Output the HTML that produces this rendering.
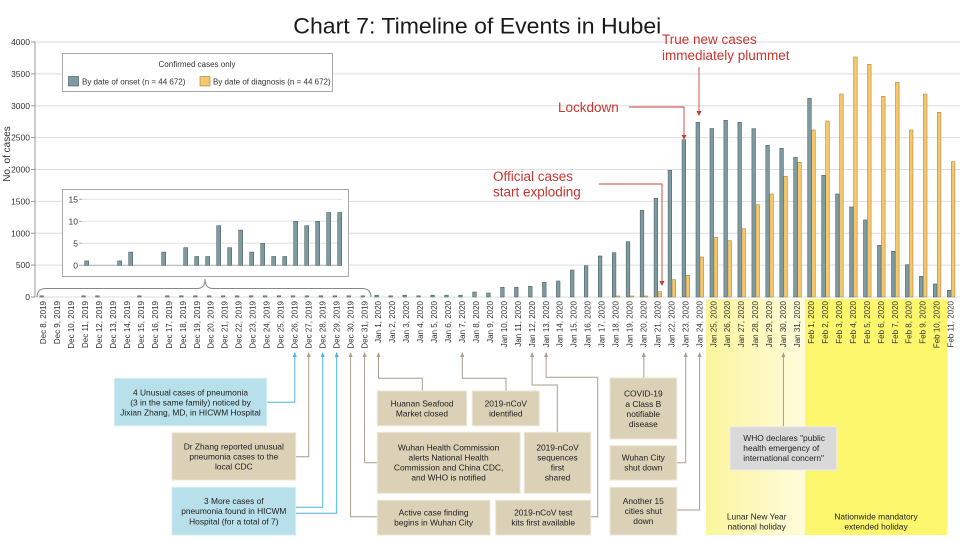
<!DOCTYPE html>
<html><head><meta charset="utf-8"><style>
html,body{margin:0;padding:0;background:#fff;}
svg{display:block;font-family:"Liberation Sans",Arial,sans-serif;}
</style></head><body>
<svg width="960" height="539" viewBox="0 0 960 539" xmlns="http://www.w3.org/2000/svg">
<defs>
<linearGradient id="ly" x1="0" x2="1" y1="0" y2="0">
<stop offset="0" stop-color="#fbf59c"/><stop offset="1" stop-color="#fefcdc"/>
</linearGradient>
</defs>
<rect width="960" height="539" fill="#fff"/>
<!-- yellow bands -->
<rect x="706" y="299" width="99" height="236" fill="url(#ly)"/>
<rect x="805" y="299" width="142" height="236" fill="#fdf76e"/>

<!-- title -->
<text x="293.3" y="33.3" font-size="22.5" fill="#1a1a1a" textLength="368" lengthAdjust="spacingAndGlyphs">Chart 7: Timeline of Events in Hubei</text>

<!-- gridlines -->
<g stroke="#dedede" stroke-width="1">
<line x1="35" x2="960" y1="42" y2="42"/>
<line x1="35" x2="960" y1="73.9" y2="73.9"/>
<line x1="35" x2="960" y1="105.75" y2="105.75"/>
<line x1="35" x2="960" y1="137.6" y2="137.6"/>
<line x1="35" x2="960" y1="169.5" y2="169.5"/>
<line x1="35" x2="960" y1="201.4" y2="201.4"/>
<line x1="35" x2="960" y1="233.25" y2="233.25"/>
<line x1="35" x2="960" y1="265.1" y2="265.1"/>
<line x1="35" x2="960" y1="297" y2="297"/>
</g>
<line x1="35" x2="35" y1="42" y2="297" stroke="#999" stroke-width="1"/>
<g stroke="#999" stroke-width="1">
<line x1="31" x2="35" y1="42" y2="42"/><line x1="31" x2="35" y1="73.9" y2="73.9"/><line x1="31" x2="35" y1="105.75" y2="105.75"/><line x1="31" x2="35" y1="137.6" y2="137.6"/><line x1="31" x2="35" y1="169.5" y2="169.5"/><line x1="31" x2="35" y1="201.4" y2="201.4"/><line x1="31" x2="35" y1="233.25" y2="233.25"/><line x1="31" x2="35" y1="265.1" y2="265.1"/><line x1="31" x2="35" y1="297" y2="297"/>
</g>
<g font-size="8.5" fill="#333" text-anchor="end">
<text x="30" y="45">4000</text><text x="30" y="76.9">3500</text><text x="30" y="108.8">3000</text><text x="30" y="140.6">2500</text><text x="30" y="172.5">2000</text><text x="30" y="204.4">1500</text><text x="30" y="236.3">1000</text><text x="30" y="268.1">500</text><text x="30" y="300">0</text>
</g>
<text transform="translate(10,154) rotate(-90)" font-size="10" fill="#333" text-anchor="middle">No. of cases</text>

<!-- legend -->
<rect x="62.5" y="53.5" width="270" height="38" fill="#fff" stroke="#aaa" stroke-width="1"/>
<text x="197" y="67" font-size="8" fill="#333" text-anchor="middle">Confirmed cases only</text>
<rect x="68.5" y="76.5" width="10" height="9.5" fill="#7d9ba0" stroke="#4f6569" stroke-width="0.7"/>
<text x="82" y="84.5" font-size="8" fill="#333">By date of onset (n = 44 672)</text>
<rect x="200" y="76.5" width="10" height="9.5" fill="#f6c66b" stroke="#a88a55" stroke-width="0.7"/>
<text x="213" y="84.5" font-size="8" fill="#333">By date of diagnosis (n = 44 672)</text>

<!-- inset -->
<rect x="62.5" y="189.5" width="286" height="87" fill="#fff" stroke="#aaa" stroke-width="1"/>
<g stroke="#e2e2e2" stroke-width="1">
<line x1="82" x2="342" y1="199.3" y2="199.3"/><line x1="82" x2="342" y1="221.3" y2="221.3"/><line x1="82" x2="342" y1="243.3" y2="243.3"/>
</g>
<line x1="82" x2="342" y1="265.3" y2="265.3" stroke="#aaa" stroke-width="1"/>
<g stroke="#aaa" stroke-width="1">
<line x1="79" x2="82" y1="199.3" y2="199.3"/><line x1="79" x2="82" y1="221.3" y2="221.3"/><line x1="79" x2="82" y1="243.3" y2="243.3"/><line x1="79" x2="82" y1="265.3" y2="265.3"/>
</g>
<g font-size="8.5" fill="#333" text-anchor="end">
<text x="78" y="202.3">15</text><text x="78" y="224.3">10</text><text x="78" y="246.3">5</text><text x="78" y="268.3">0</text>
</g>
<g fill="#7d9ba0" stroke="#4f6569" stroke-width="0.6">
<rect x="84.7" y="260.9" width="4" height="4.4"/>
<rect x="117.7" y="260.9" width="4" height="4.4"/>
<rect x="128.7" y="252.1" width="4" height="13.2"/>
<rect x="161.7" y="252.1" width="4" height="13.2"/>
<rect x="183.7" y="247.7" width="4" height="17.6"/>
<rect x="194.7" y="256.5" width="4" height="8.8"/>
<rect x="205.7" y="256.5" width="4" height="8.8"/>
<rect x="216.7" y="225.7" width="4" height="39.6"/>
<rect x="227.7" y="247.7" width="4" height="17.6"/>
<rect x="238.7" y="230.1" width="4" height="35.2"/>
<rect x="249.7" y="252.1" width="4" height="13.2"/>
<rect x="260.7" y="243.3" width="4" height="22"/>
<rect x="271.7" y="256.5" width="4" height="8.8"/>
<rect x="282.7" y="256.5" width="4" height="8.8"/>
<rect x="293.7" y="221.3" width="4" height="44"/>
<rect x="304.7" y="225.7" width="4" height="39.6"/>
<rect x="315.7" y="221.3" width="4" height="44"/>
<rect x="326.7" y="212.5" width="4" height="52.8"/>
<rect x="337.7" y="212.5" width="4" height="52.8"/>
</g>
<!-- brace -->
<path d="M37,297 Q37,288.5 46,288.5 L197,288.5 Q205,288.5 205,279 Q205,288.5 213,288.5 L362,288.5 Q371,288.5 371,297" fill="none" stroke="#888" stroke-width="1"/>

<!-- onset bars -->
<g fill="#7d9ba0" stroke="#4f6569" stroke-width="0.6">
<rect x="39.9" y="295.8" width="3.6" height="1.2"/>
<rect x="81.8" y="295.8" width="3.6" height="1.2"/>
<rect x="95.7" y="295.8" width="3.6" height="1.2"/>
<rect x="137.6" y="295.8" width="3.6" height="1.2"/>
<rect x="165.5" y="295.8" width="3.6" height="1.2"/>
<rect x="179.5" y="295.8" width="3.6" height="1.2"/>
<rect x="193.5" y="295.8" width="3.6" height="1.2"/>
<rect x="207.4" y="295.8" width="3.6" height="1.2"/>
<rect x="221.4" y="295.8" width="3.6" height="1.2"/>
<rect x="235.3" y="295.8" width="3.6" height="1.2"/>
<rect x="249.3" y="295.8" width="3.6" height="1.2"/>
<rect x="263.3" y="295.8" width="3.6" height="1.2"/>
<rect x="277.2" y="295.8" width="3.6" height="1.2"/>
<rect x="291.2" y="295.8" width="3.6" height="1.2"/>
<rect x="305.1" y="295.8" width="3.6" height="1.2"/>
<rect x="319.1" y="295.8" width="3.6" height="1.2"/>
<rect x="333.1" y="295.8" width="3.6" height="1.2"/>
<rect x="347.0" y="295.8" width="3.6" height="1.2"/>
<rect x="361.0" y="295.8" width="3.6" height="1.2"/>
<rect x="374.9" y="295.2" width="3.6" height="1.8"/>
<rect x="388.9" y="295.8" width="3.6" height="1.2"/>
<rect x="402.9" y="295.2" width="3.6" height="1.8"/>
<rect x="416.8" y="295.8" width="3.6" height="1.2"/>
<rect x="430.8" y="295.2" width="3.6" height="1.8"/>
<rect x="444.7" y="295.2" width="3.6" height="1.8"/>
<rect x="458.7" y="295.2" width="3.6" height="1.8"/>
<rect x="472.7" y="292" width="3.6" height="5"/>
<rect x="486.6" y="293" width="3.6" height="4"/>
<rect x="500.6" y="287.3" width="3.6" height="9.7"/>
<rect x="514.5" y="287.3" width="3.6" height="9.7"/>
<rect x="528.5" y="286.3" width="3.6" height="10.7"/>
<rect x="542.5" y="282.3" width="3.6" height="14.7"/>
<rect x="556.4" y="281" width="3.6" height="16"/>
<rect x="570.4" y="270" width="3.6" height="27"/>
<rect x="584.3" y="265.7" width="3.6" height="31.3"/>
<rect x="598.3" y="256" width="3.6" height="41"/>
<rect x="612.3" y="252.7" width="3.6" height="44.3"/>
<rect x="626.2" y="241.7" width="3.6" height="55.3"/>
<rect x="640.2" y="210.3" width="3.6" height="86.7"/>
<rect x="654.1" y="198.3" width="3.6" height="98.7"/>
<rect x="668.1" y="170.3" width="3.6" height="126.7"/>
<rect x="682.1" y="139.7" width="3.6" height="157.3"/>
<rect x="696.0" y="122.3" width="3.6" height="174.7"/>
<rect x="710.0" y="128.5" width="3.6" height="168.5"/>
<rect x="723.9" y="120.3" width="3.6" height="176.7"/>
<rect x="737.9" y="122.3" width="3.6" height="174.7"/>
<rect x="751.9" y="128.7" width="3.6" height="168.3"/>
<rect x="765.8" y="145.3" width="3.6" height="151.7"/>
<rect x="779.8" y="148.3" width="3.6" height="148.7"/>
<rect x="793.7" y="157.3" width="3.6" height="139.7"/>
<rect x="807.7" y="98.3" width="3.6" height="198.7"/>
<rect x="821.7" y="175.3" width="3.6" height="121.7"/>
<rect x="835.6" y="194" width="3.6" height="103"/>
<rect x="849.6" y="207" width="3.6" height="90"/>
<rect x="863.5" y="220" width="3.6" height="77"/>
<rect x="877.5" y="245.3" width="3.6" height="51.7"/>
<rect x="891.5" y="251.3" width="3.6" height="45.7"/>
<rect x="905.4" y="264.7" width="3.6" height="32.3"/>
<rect x="919.4" y="276.3" width="3.6" height="20.7"/>
<rect x="933.3" y="284" width="3.6" height="13"/>
<rect x="947.3" y="290.3" width="3.6" height="6.7"/>
</g>
<!-- diagnosis bars -->
<g fill="#f6c66b" stroke="#a88a55" stroke-width="0.6">
<rect x="616.3" y="296" width="3.6" height="1"/>
<rect x="630.2" y="296" width="3.6" height="1"/>
<rect x="644.2" y="296" width="3.6" height="1"/>
<rect x="658.1" y="291.7" width="3.6" height="5.3"/>
<rect x="672.1" y="279.7" width="3.6" height="17.3"/>
<rect x="686.1" y="275.3" width="3.6" height="21.7"/>
<rect x="700.0" y="257" width="3.6" height="40"/>
<rect x="714.0" y="237.3" width="3.6" height="59.7"/>
<rect x="727.9" y="240.7" width="3.6" height="56.3"/>
<rect x="741.9" y="228.7" width="3.6" height="68.3"/>
<rect x="755.9" y="204.7" width="3.6" height="92.3"/>
<rect x="769.8" y="194" width="3.6" height="103"/>
<rect x="783.8" y="176.3" width="3.6" height="120.7"/>
<rect x="797.7" y="162.3" width="3.6" height="134.7"/>
<rect x="811.7" y="130" width="3.6" height="167"/>
<rect x="825.7" y="121" width="3.6" height="176"/>
<rect x="839.6" y="94" width="3.6" height="203"/>
<rect x="853.6" y="57" width="3.6" height="240"/>
<rect x="867.5" y="64.3" width="3.6" height="232.7"/>
<rect x="881.5" y="96.3" width="3.6" height="200.7"/>
<rect x="895.5" y="82.3" width="3.6" height="214.7"/>
<rect x="909.4" y="130" width="3.6" height="167"/>
<rect x="923.4" y="94" width="3.6" height="203"/>
<rect x="937.3" y="112.3" width="3.6" height="184.7"/>
<rect x="951.3" y="161.7" width="3.6" height="135.3"/>
</g>

<!-- x labels -->
<g font-size="8" fill="#333" text-anchor="end">
<text transform="translate(46.2,301) rotate(-90)">Dec 8, 2019</text>
<text transform="translate(60.2,301) rotate(-90)">Dec 9, 2019</text>
<text transform="translate(74.1,301) rotate(-90)">Dec 10, 2019</text>
<text transform="translate(88.1,301) rotate(-90)">Dec 11, 2019</text>
<text transform="translate(102.0,301) rotate(-90)">Dec 12, 2019</text>
<text transform="translate(116.0,301) rotate(-90)">Dec 13, 2019</text>
<text transform="translate(130.0,301) rotate(-90)">Dec 14, 2019</text>
<text transform="translate(143.9,301) rotate(-90)">Dec 15, 2019</text>
<text transform="translate(157.9,301) rotate(-90)">Dec 16, 2019</text>
<text transform="translate(171.8,301) rotate(-90)">Dec 17, 2019</text>
<text transform="translate(185.8,301) rotate(-90)">Dec 18, 2019</text>
<text transform="translate(199.8,301) rotate(-90)">Dec 19, 2019</text>
<text transform="translate(213.7,301) rotate(-90)">Dec 20, 2019</text>
<text transform="translate(227.7,301) rotate(-90)">Dec 21, 2019</text>
<text transform="translate(241.6,301) rotate(-90)">Dec 22, 2019</text>
<text transform="translate(255.6,301) rotate(-90)">Dec 23, 2019</text>
<text transform="translate(269.6,301) rotate(-90)">Dec 24, 2019</text>
<text transform="translate(283.5,301) rotate(-90)">Dec 25, 2019</text>
<text transform="translate(297.5,301) rotate(-90)">Dec 26, 2019</text>
<text transform="translate(311.4,301) rotate(-90)">Dec 27, 2019</text>
<text transform="translate(325.4,301) rotate(-90)">Dec 28, 2019</text>
<text transform="translate(339.4,301) rotate(-90)">Dec 29, 2019</text>
<text transform="translate(353.3,301) rotate(-90)">Dec 30, 2019</text>
<text transform="translate(367.3,301) rotate(-90)">Dec 31, 2019</text>
<text transform="translate(381.2,301) rotate(-90)">Jan 1, 2020</text>
<text transform="translate(395.2,301) rotate(-90)">Jan 2, 2020</text>
<text transform="translate(409.2,301) rotate(-90)">Jan 3, 2020</text>
<text transform="translate(423.1,301) rotate(-90)">Jan 4, 2020</text>
<text transform="translate(437.1,301) rotate(-90)">Jan 5, 2020</text>
<text transform="translate(451.0,301) rotate(-90)">Jan 6, 2020</text>
<text transform="translate(465.0,301) rotate(-90)">Jan 7, 2020</text>
<text transform="translate(479.0,301) rotate(-90)">Jan 8, 2020</text>
<text transform="translate(492.9,301) rotate(-90)">Jan 9, 2020</text>
<text transform="translate(506.9,301) rotate(-90)">Jan 10, 2020</text>
<text transform="translate(520.8,301) rotate(-90)">Jan 11, 2020</text>
<text transform="translate(534.8,301) rotate(-90)">Jan 12, 2020</text>
<text transform="translate(548.8,301) rotate(-90)">Jan 13, 2020</text>
<text transform="translate(562.7,301) rotate(-90)">Jan 14, 2020</text>
<text transform="translate(576.7,301) rotate(-90)">Jan 15, 2020</text>
<text transform="translate(590.6,301) rotate(-90)">Jan 16, 2020</text>
<text transform="translate(604.6,301) rotate(-90)">Jan 17, 2020</text>
<text transform="translate(618.6,301) rotate(-90)">Jan 18, 2020</text>
<text transform="translate(632.5,301) rotate(-90)">Jan 19, 2020</text>
<text transform="translate(646.5,301) rotate(-90)">Jan 20, 2020</text>
<text transform="translate(660.4,301) rotate(-90)">Jan 21, 2020</text>
<text transform="translate(674.4,301) rotate(-90)">Jan 22, 2020</text>
<text transform="translate(688.4,301) rotate(-90)">Jan 23, 2020</text>
<text transform="translate(702.3,301) rotate(-90)">Jan 24, 2020</text>
<text transform="translate(716.3,301) rotate(-90)">Jan 25, 2020</text>
<text transform="translate(730.2,301) rotate(-90)">Jan 26, 2020</text>
<text transform="translate(744.2,301) rotate(-90)">Jan 27, 2020</text>
<text transform="translate(758.2,301) rotate(-90)">Jan 28, 2020</text>
<text transform="translate(772.1,301) rotate(-90)">Jan 29, 2020</text>
<text transform="translate(786.1,301) rotate(-90)">Jan 30, 2020</text>
<text transform="translate(800.0,301) rotate(-90)">Jan 31, 2020</text>
<text transform="translate(814.0,301) rotate(-90)">Feb 1, 2020</text>
<text transform="translate(828.0,301) rotate(-90)">Feb 2, 2020</text>
<text transform="translate(841.9,301) rotate(-90)">Feb 3, 2020</text>
<text transform="translate(855.9,301) rotate(-90)">Feb 4, 2020</text>
<text transform="translate(869.8,301) rotate(-90)">Feb 5, 2020</text>
<text transform="translate(883.8,301) rotate(-90)">Feb 6, 2020</text>
<text transform="translate(897.8,301) rotate(-90)">Feb 7, 2020</text>
<text transform="translate(911.7,301) rotate(-90)">Feb 8, 2020</text>
<text transform="translate(925.7,301) rotate(-90)">Feb 9, 2020</text>
<text transform="translate(939.6,301) rotate(-90)">Feb 10, 2020</text>
<text transform="translate(953.6,301) rotate(-90)">Feb 11, 2020</text>
</g>

<!-- red annotations -->
<g font-size="13.5" fill="#c8352f">
<text x="662" y="44">True new cases</text>
<text x="662" y="60">immediately plummet</text>
<text x="558" y="112">Lockdown</text>
<text x="493" y="181">Official cases</text>
<text x="493" y="196.5">start exploding</text>
</g>
<g fill="none" stroke="#c8413b" stroke-width="0.9">
<path d="M699,67 V111"/>
<path d="M629,107 H684 V135"/>
<path d="M599,184 H662 V281"/>
</g>
<g fill="#c8352f">
<polygon points="696.5,111 701.5,111 699,116"/>
<polygon points="681.5,135 686.5,135 684,139.5"/>
<polygon points="659.5,281 664.5,281 662,286"/>
</g>

<!-- connectors -->
<g fill="none" stroke="#a89e8e" stroke-width="1">
<path d="M295.7,456.7 H308.7 V357"/>
<path d="M377.3,516.7 H350.6 V357"/>
<path d="M377.3,462.7 H364.6 V357"/>
<path d="M422.3,391 V378.3 H378.5 V357"/>
<path d="M506,391 V378.3 H462.3 V357"/>
<path d="M557.3,432.3 V385 H532.1 V357"/>
<path d="M590.7,516.7 H597.7 V377.3 H546.1 V357"/>
<path d="M643.8,378 V357"/>
<path d="M676.7,462.7 H685.7 V357"/>
<path d="M676.7,510 H699.6 V357"/>
<path d="M783.4,426.7 V357"/>
</g>
<g fill="none" stroke="#4fb3dc" stroke-width="1">
<path d="M266.7,402.3 H294.8 V357"/>
<path d="M295.7,507.3 H322.7 V357"/>
<path d="M295.7,513.3 H336.7 V357"/>
</g>
<g fill="#a89e8e">
<polygon points="306.7,357 310.7,357 308.7,352"/>
<polygon points="348.6,357 352.6,357 350.6,352"/>
<polygon points="362.6,357 366.6,357 364.6,352"/>
<polygon points="376.5,357 380.5,357 378.5,352"/>
<polygon points="460.3,357 464.3,357 462.3,352"/>
<polygon points="530.1,357 534.1,357 532.1,352"/>
<polygon points="544.1,357 548.1,357 546.1,352"/>
<polygon points="641.8,357 645.8,357 643.8,352"/>
<polygon points="683.7,357 687.7,357 685.7,352"/>
<polygon points="697.6,357 701.6,357 699.6,352"/>
<polygon points="781.4,357 785.4,357 783.4,352"/>
</g>
<g fill="#4fb3dc">
<polygon points="292.8,357 296.8,357 294.8,352"/>
<polygon points="320.7,357 324.7,357 322.7,352"/>
<polygon points="334.7,357 338.7,357 336.7,352"/>
</g>

<!-- boxes -->
<g stroke-width="1">
<rect x="114.3" y="378.3" width="152.4" height="47.4" fill="#b7e0ea" stroke="#d4eef4"/>
<rect x="172" y="432.7" width="123.7" height="47.3" fill="#dad1b6" stroke="#ebe6d6"/>
<rect x="172" y="487.3" width="123.7" height="47.7" fill="#b7e0ea" stroke="#d4eef4"/>
<rect x="377.3" y="391" width="89.4" height="34.7" fill="#dad1b6" stroke="#ebe6d6"/>
<rect x="472.3" y="391" width="67" height="34.7" fill="#dad1b6" stroke="#ebe6d6"/>
<rect x="377.3" y="432.3" width="142.7" height="61" fill="#dad1b6" stroke="#ebe6d6"/>
<rect x="524.3" y="432.3" width="66.4" height="61" fill="#dad1b6" stroke="#ebe6d6"/>
<rect x="377.3" y="500.3" width="112.7" height="34.7" fill="#dad1b6" stroke="#ebe6d6"/>
<rect x="495.7" y="500.3" width="95" height="34.7" fill="#dad1b6" stroke="#ebe6d6"/>
<rect x="610" y="378" width="66.7" height="61" fill="#dad1b6" stroke="#ebe6d6"/>
<rect x="610" y="445.7" width="66.7" height="34.3" fill="#dad1b6" stroke="#ebe6d6"/>
<rect x="610" y="487.3" width="66.7" height="47.7" fill="#dad1b6" stroke="#ebe6d6"/>
<rect x="730" y="426.7" width="106.7" height="43.3" fill="#d9d9d9" stroke="#ececec"/>
</g>
<g font-size="8.4" fill="#222" text-anchor="middle">
<text x="190.5" y="395.3">4 Unusual cases of pneumonia</text>
<text x="190.5" y="405.3">(3 in the same family) noticed by</text>
<text x="190.5" y="415.3">Jixian Zhang, MD, in HICWM Hospital</text>
<text x="233.8" y="449.7">Dr Zhang reported unusual</text>
<text x="233.8" y="459.7">pneumonia cases to the</text>
<text x="233.8" y="469.7">local CDC</text>
<text x="233.8" y="504">3 More cases of</text>
<text x="233.8" y="514">pneumonia found in HICWM</text>
<text x="233.8" y="524.5">Hospital (for a total of 7)</text>
<text x="422" y="406.3">Huanan Seafood</text>
<text x="422" y="416.3">Market closed</text>
<text x="505.8" y="406.3">2019-nCoV</text>
<text x="505.8" y="416.3">identified</text>
<text x="448.6" y="450.7">Wuhan Health Commission</text>
<text x="448.6" y="460.7">alerts National Health</text>
<text x="448.6" y="470.7">Commission and China CDC,</text>
<text x="448.6" y="480.7">and WHO is notified</text>
<text x="557.5" y="450.7">2019-nCoV</text>
<text x="557.5" y="460.7">sequences</text>
<text x="557.5" y="470.7">first</text>
<text x="557.5" y="480.7">shared</text>
<text x="433.6" y="515.7">Active case finding</text>
<text x="433.6" y="525.7">begins in Wuhan City</text>
<text x="543.2" y="515.7">2019-nCoV test</text>
<text x="543.2" y="525.7">kits first available</text>
<text x="643.3" y="396.3">COVID-19</text>
<text x="643.3" y="406.8">a Class B</text>
<text x="643.3" y="416.8">notifiable</text>
<text x="643.3" y="426.8">disease</text>
<text x="643.3" y="460.7">Wuhan City</text>
<text x="643.3" y="470.7">shut down</text>
<text x="643.3" y="504">Another 15</text>
<text x="643.3" y="514">cities shut</text>
<text x="643.3" y="524">down</text>
<text x="756.7" y="519.7">Lunar New Year</text>
<text x="756.7" y="529.7">national holiday</text>
<text x="876" y="519.7">Nationwide mandatory</text>
<text x="876" y="529.7">extended holiday</text>
</g>
<g font-size="8.4" fill="#222">
<text x="743.3" y="441">WHO declares "public</text>
<text x="743.3" y="451">health emergency of</text>
<text x="743.3" y="461">international concern"</text>
</g>
</svg>
</body></html>
